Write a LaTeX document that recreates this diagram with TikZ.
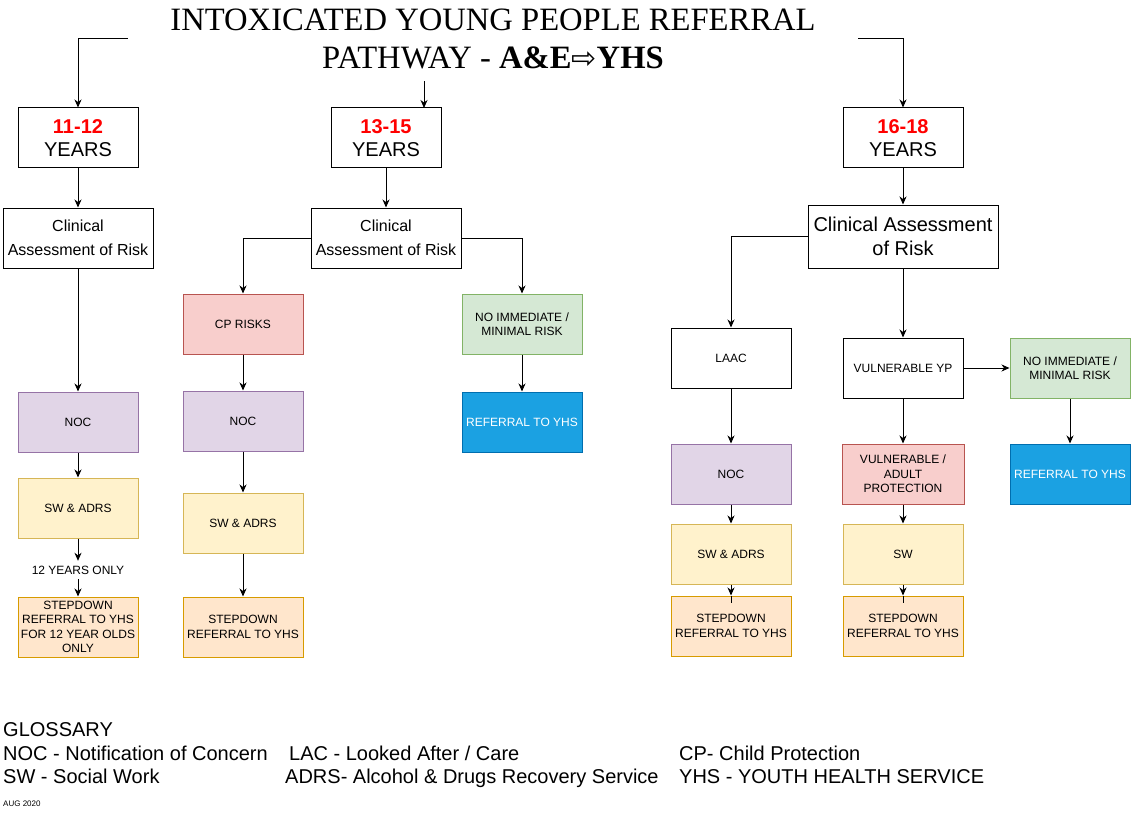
\documentclass[tikz,border=0pt]{standalone}
\usepackage{fontspec}
\setmainfont{Liberation Sans}
\newfontfamily\titlefont{Liberation Serif}
\newfontfamily\symfont{DejaVu Sans}
\usetikzlibrary{arrows.meta}
\definecolor{purfill}{HTML}{E1D5E7}\definecolor{purline}{HTML}{9673A6}
\definecolor{yelfill}{HTML}{FFF2CC}\definecolor{yelline}{HTML}{D6B656}
\definecolor{orafill}{HTML}{FFE6CC}\definecolor{oraline}{HTML}{D79B00}
\definecolor{redfill}{HTML}{F8CECC}\definecolor{redline}{HTML}{B85450}
\definecolor{grefill}{HTML}{D5E8D4}\definecolor{greline}{HTML}{82B366}
\definecolor{blufill}{HTML}{1BA1E2}\definecolor{bluline}{HTML}{006EAF}
\definecolor{agered}{HTML}{FF0000}
\begin{document}
\begin{tikzpicture}[x=1pt,y=-1pt,
  box/.style={draw, line width=1pt, minimum width=120pt, minimum height=60pt, inner sep=0pt, align=center, font=\fontsize{12}{14.5}\selectfont},
  agebox/.style={box, font=\fontsize{20}{22.5}\selectfont},
  clinbox/.style={box, minimum width=150pt, font=\fontsize{16}{23.5}\selectfont},
  purbox/.style={box, fill=purfill, draw=purline},
  yelbox/.style={box, fill=yelfill, draw=yelline},
  orabox/.style={box, fill=orafill, draw=oraline},
  redbox/.style={box, fill=redfill, draw=redline},
  grebox/.style={box, fill=grefill, draw=greline},
  blubox/.style={box, fill=blufill, draw=bluline, text=white},
  arr/.style={line width=1pt, -{Stealth[length=8pt, width=7pt, inset=2.5pt]}},
  plain/.style={line width=1pt},
  gloss/.style={anchor=base west, inner sep=0pt, font=\fontsize{20}{24}\selectfont}
]
\useasboundingbox (0,0) rectangle (1131,813);
\fill[white] (0,0) rectangle (1131,813);

% title
\node[minimum width=730pt, minimum height=84pt, inner sep=0pt, align=center,
      font=\titlefont\fontsize{32.6}{38}\selectfont] (title) at (493,39)
  {INTOXICATED YOUNG PEOPLE REFERRAL\\PATHWAY - \textbf{A\&E}{\symfont\fontsize{30}{38}\selectfont ⇨}\textbf{YHS}};

% age boxes
\node[agebox] (y11) at (78,138) {{\color{agered}\bfseries 11-12}\\YEARS};
\node[agebox, minimum width=110pt] (y13) at (386,138) {{\color{agered}\bfseries 13-15}\\YEARS};
\node[agebox] (y16) at (903,138) {{\color{agered}\bfseries 16-18}\\YEARS};
\coordinate (in13) at (424,108);

% clinical assessments
\node[clinbox] (c11) at (78,238) {Clinical\\Assessment of Risk};
\node[clinbox] (c13) at (386,238) {Clinical\\Assessment of Risk};
\node[box, minimum width=190pt, minimum height=63pt, font=\fontsize{20}{24}\selectfont] (c16) at (903,236.5) {Clinical Assessment\\of Risk};

% 11-12 column
\node[purbox] (noc11) at (78,422) {NOC};
\node[yelbox] (sw11) at (78,508) {SW \& ADRS};
\node[inner sep=0pt, minimum height=18pt, font=\fontsize{12}{14.5}\selectfont] (lab12) at (78,570) {12 YEARS ONLY};
\node[orabox] (sd11) at (78,627) {STEPDOWN\\REFERRAL TO YHS\\FOR 12 YEAR OLDS\\ONLY};

% 13-15 column
\node[redbox] (cp) at (243,324) {CP RISKS};
\node[purbox] (noc13) at (243,421) {NOC};
\node[yelbox] (sw13) at (243,523) {SW \& ADRS};
\node[orabox] (sd13) at (243,627) {STEPDOWN\\REFERRAL TO YHS};
\node[grebox] (ni13) at (522,324) {NO IMMEDIATE /\\MINIMAL RISK};
\node[blubox] (ref13) at (522,422) {REFERRAL TO YHS};

% 16-18 column
\node[box] (laac) at (731,358) {LAAC};
\node[purbox] (noc16) at (731,474) {NOC};
\node[yelbox] (sw16) at (731,554) {SW \& ADRS};
\node[orabox] (sd16) at (731,626) {STEPDOWN\\REFERRAL TO YHS};
\node[box] (vyp) at (903,368) {VULNERABLE YP};
\node[redbox, minimum width=122pt] (vap) at (903,474) {VULNERABLE /\\ADULT\\PROTECTION};
\node[yelbox] (swo) at (903,554) {SW};
\node[orabox] (sd16b) at (903,626) {STEPDOWN\\REFERRAL TO YHS};
\node[grebox] (ni16) at (1070,368) {NO IMMEDIATE /\\MINIMAL RISK};
\node[blubox] (ref16) at (1070,474) {REFERRAL TO YHS};

% connectors from title
\draw[arr] (title.west) -| (y11.north);
\draw[arr] (title.east) -| (y16.north);
\draw[arr] (in13 |- title.south) -- (in13);

% 11-12
\draw[arr] (y11) -- (c11);
\draw[arr] (c11) -- (noc11);
\draw[arr] (noc11) -- (sw11);
\draw[arr] (sw11) -- (lab12);
\draw[arr] (lab12) -- (sd11);

% 13-15
\draw[arr] (y13) -- (c13);
\draw[arr] (c13.west) -| (cp.north);
\draw[arr] (c13.east) -| (ni13.north);
\draw[arr] (cp) -- (noc13);
\draw[arr] (noc13) -- (sw13);
\draw[arr] (sw13) -- (sd13);
\draw[arr] (ni13) -- (ref13);

% 16-18
\draw[arr] (y16) -- (c16);
\draw[arr] (c16.west) -| (laac.north);
\draw[arr] (c16) -- (vyp);
\draw[arr] (vyp) -- (ni16);
\draw[arr] (ni16) -- (ref16);
\draw[arr] (laac) -- (noc16);
\draw[arr] (noc16) -- (sw16);
\draw[arr] (sw16) -- (sd16);
\draw[plain] (sd16.north) -- ++(0,7);
\draw[arr] (vyp) -- (vap);
\draw[arr] (vap) -- (swo);
\draw[arr] (swo) -- (sd16b);
\draw[plain] (sd16b.north) -- ++(0,7);

% glossary
\node[gloss] (g0) at (3,736.5) {GLOSSARY};
\node[gloss] (g1) at (3,760) {NOC - Notification of Concern};
\node[gloss] (g2) at (3,783.5) {SW - Social Work};
\node[gloss] (g3) at (289,760) {LAC - Looked After / Care};
\node[gloss] (g4) at (285,783.5) {ADRS- Alcohol \& Drugs Recovery Service};
\node[gloss] (g5) at (679,760) {CP- Child Protection};
\node[gloss] (g6) at (679,783.5) {YHS - YOUTH HEALTH SERVICE};
\node[anchor=base west, inner sep=0pt, font=\fontsize{8}{9}\selectfont] (aug) at (3,806.5) {AUG 2020};
\end{tikzpicture}
\end{document}
